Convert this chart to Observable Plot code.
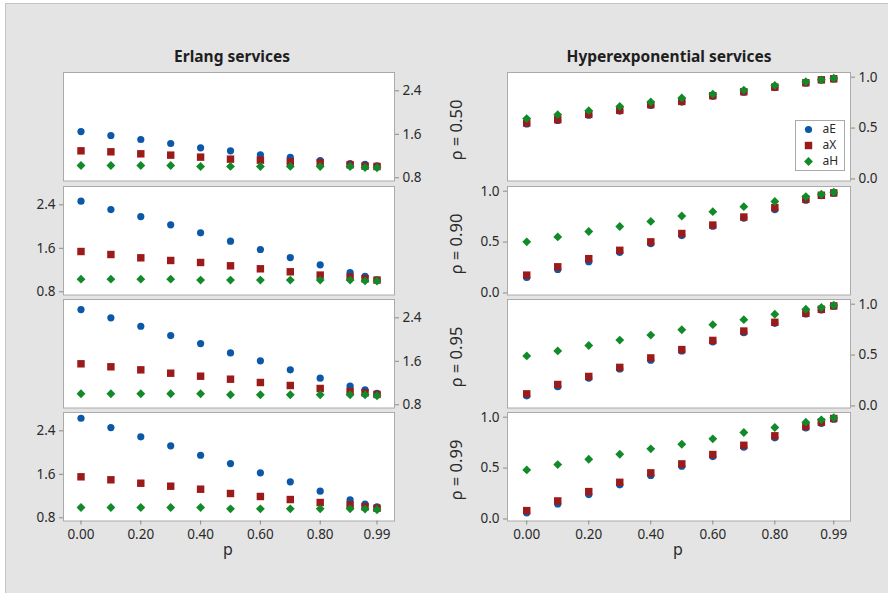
<!DOCTYPE html>
<html><head><meta charset="utf-8">
<script src="https://cdn.jsdelivr.net/npm/d3@7"></script>
<script src="https://cdn.jsdelivr.net/npm/@observablehq/plot@0.6"></script>
<style>
body{margin:0;background:#fff;}
#wrap{position:relative;width:888px;height:593px;overflow:hidden;font-family:"Noto Sans",sans-serif;}
#bg{position:absolute;left:5px;top:3px;width:900px;height:600px;background:#e4e4e4;border:1px solid #c4c4c4;}
.title{position:absolute;font-weight:bold;font-size:15.5px;color:#1e1e1e;transform:translateX(-50%);white-space:nowrap;}
.rho{position:absolute;font-size:16.5px;color:#2a2a2a;transform:translate(-50%,-50%) rotate(-90deg);white-space:nowrap;}
.xlab{position:absolute;font-size:16px;color:#2a2a2a;transform:translate(-50%,-50%);}
svg{overflow:visible;}
</style></head>
<body><div id="wrap"><div id="bg"></div></div>
<script>
// ---------- data ----------
const pValues = [0, 0.1, 0.2, 0.3, 0.4, 0.5, 0.6, 0.7, 0.8, 0.9, 0.95, 0.99];
const xTicks = [0, 0.2, 0.4, 0.6, 0.8, 0.99];
const rhoLabels = ["0.50", "0.90", "0.95", "0.99"];
const seriesNames = ["aE", "aX", "aH"];
const serviceTitles = ["Erlang services", "Hyperexponential services"];
const erlangTicks = [0.8, 1.6, 2.4];
const hyperTicks = [0, 0.5, 1.0];

// Erlang services
const erlangAE_050 = [1.651,1.578,1.504,1.431,1.352,1.296,1.223,1.174,1.118,1.063,1.045,1.02];
const erlangAX_050 = [1.296,1.278,1.241,1.217,1.18,1.143,1.125,1.094,1.076,1.039,1.015,1.008];
const erlangAH_050 = [1.027,1.027,1.027,1.027,1.008,1.01,1.008,1.01,1.008,1.008,0.99,0.985];

const erlangAE_090 = [2.467,2.313,2.184,2.032,1.885,1.732,1.578,1.43,1.296,1.155,1.082,1.02];
const erlangAX_090 = [1.541,1.486,1.425,1.376,1.339,1.278,1.223,1.168,1.107,1.07,1.039,1.015];
const erlangAH_090 = [1.033,1.033,1.033,1.033,1.015,1.015,1.015,1.015,1.015,1.015,1.0,0.998];

const erlangAE_095 = [2.552,2.4,2.245,2.074,1.927,1.755,1.608,1.443,1.289,1.142,1.076,1.01];
const erlangAX_095 = [1.554,1.499,1.443,1.381,1.326,1.271,1.21,1.155,1.1,1.044,1.02,0.99];
const erlangAH_095 = [1.002,1.002,1.002,1.002,1.002,0.984,0.984,0.984,0.984,0.984,0.984,0.967];

const erlangAE_099 = [2.631,2.46,2.289,2.124,1.951,1.798,1.627,1.462,1.289,1.131,1.05,1.0];
const erlangAX_099 = [1.554,1.499,1.436,1.381,1.326,1.247,1.192,1.136,1.081,1.039,1.002,0.976];
const erlangAH_099 = [0.989,0.989,0.989,0.989,0.989,0.965,0.965,0.965,0.965,0.965,0.96,0.947];

// Hyperexponential services
const hyperAE_050 = [0.54,0.575,0.627,0.667,0.722,0.755,0.812,0.852,0.898,0.942,0.972,0.983];
const hyperAX_050 = [0.55,0.583,0.635,0.674,0.73,0.762,0.818,0.857,0.902,0.945,0.974,0.984];
const hyperAH_050 = [0.593,0.632,0.671,0.713,0.756,0.795,0.834,0.873,0.919,0.955,0.974,0.99];

const hyperAE_090 = [0.152,0.231,0.307,0.399,0.485,0.564,0.656,0.736,0.819,0.911,0.955,0.98];
const hyperAX_090 = [0.175,0.257,0.337,0.419,0.502,0.584,0.667,0.746,0.838,0.921,0.96,0.983];
const hyperAH_090 = [0.502,0.551,0.604,0.653,0.703,0.756,0.799,0.848,0.898,0.947,0.97,0.99];

const hyperAE_095 = [0.1,0.19,0.274,0.363,0.449,0.541,0.63,0.72,0.812,0.904,0.944,0.98];
const hyperAX_095 = [0.119,0.211,0.29,0.379,0.472,0.554,0.644,0.736,0.822,0.911,0.95,0.983];
const hyperAH_095 = [0.492,0.541,0.594,0.647,0.696,0.749,0.799,0.848,0.901,0.95,0.967,0.99];

const hyperAE_099 = [0.06,0.148,0.24,0.335,0.427,0.518,0.613,0.705,0.797,0.895,0.94,0.98];
const hyperAX_099 = [0.082,0.177,0.269,0.36,0.453,0.541,0.633,0.724,0.817,0.908,0.951,0.987];
const hyperAH_099 = [0.482,0.534,0.587,0.636,0.689,0.734,0.787,0.849,0.899,0.951,0.974,0.994];

// ---------- styling ----------
const seriesColors = ["#0b57a8", "#9b1b1b", "#118a2a"];
const seriesSymbols = ["circle", "square", "diamond2"];
const seriesRadius = [3.6, 4.2, 4.0];

const columns = [
  {rows: [[erlangAE_050, erlangAX_050, erlangAH_050],
          [erlangAE_090, erlangAX_090, erlangAH_090],
          [erlangAE_095, erlangAX_095, erlangAH_095],
          [erlangAE_099, erlangAX_099, erlangAH_099]],
   left: 62.5, w: 331, xDomain: [-0.0585, 1.0485], yDomain: [0.741, 2.737], yTicks: erlangTicks,
   titleX: 232, labX: 228},
  {rows: [[hyperAE_050, hyperAX_050, hyperAH_050],
          [hyperAE_090, hyperAX_090, hyperAH_090],
          [hyperAE_095, hyperAX_095, hyperAH_095],
          [hyperAE_099, hyperAX_099, hyperAH_099]],
   left: 506.5, w: 343, xDomain: [-0.062, 1.044], yDomain: [-0.02, 1.046], yTicks: hyperTicks,
   titleX: 669, labX: 678}
];
const rowTops = [71.5, 185.5, 299, 412];
const rowH = 108.5;

const wrap = document.getElementById("wrap");
const fmt1 = d3.format(".1f"), fmt2 = d3.format(".2f");

columns.forEach((col, ci) => {
  const t = document.createElement("div");
  t.className = "title"; t.textContent = serviceTitles[ci];
  t.style.left = col.titleX + "px"; t.style.top = "45px";
  wrap.appendChild(t);

  col.rows.forEach((arrs, ri) => {
    const bottom = ri === 3;
    const mL = 44, mR = 44, mT = 2, mB = bottom ? 30 : 2;
    const anchor = ri % 2 === 0 ? "right" : "left";
    const marks = [Plot.frame({fill: "white", stroke: "#aaaaaa"})];
    seriesNames.forEach((s, si) => {
      const data = pValues.map((p, i) => ({p, v: arrs[si][i], s}));
      marks.push(Plot.dot(data, {x: "p", y: "v", symbol: () => seriesSymbols[si], fill: seriesColors[si], r: seriesRadius[si], stroke: "none"}));
    });
    marks.push(Plot.axisY(col.yTicks, {anchor, tickSize: 4, tickPadding: 4, tickFormat: fmt1, label: null, stroke: "#8a8a8a", fill: "#2a2a2a", fontSize: 13.5}));
    if (bottom) marks.push(Plot.axisX(xTicks, {anchor: "bottom", tickSize: 4, tickPadding: 4, tickFormat: fmt2, label: null, stroke: "#8a8a8a", fill: "#2a2a2a", fontSize: 13.5}));
    const chart = Plot.plot({
      width: col.w + mL + mR, height: rowH + mT + mB,
      marginLeft: mL, marginRight: mR, marginTop: mT, marginBottom: mB,
      x: {domain: col.xDomain, axis: null},
      y: {domain: col.yDomain, axis: null},
      symbol: {type: "identity"},
      style: {background: "transparent", fontFamily: "Noto Sans", fontSize: "13.5px", color: "#2a2a2a", overflow: "visible"},
      marks
    });
    chart.style.position = "absolute";
    chart.style.left = (col.left - mL) + "px";
    chart.style.top = (rowTops[ri] - mT) + "px";
    wrap.appendChild(chart);

    if (ci === 0) {
      const r = document.createElement("div");
      r.className = "rho"; r.textContent = "ρ = " + rhoLabels[ri];
      r.style.left = "455px"; r.style.top = (rowTops[ri] + rowH / 2 + 4) + "px";
      wrap.appendChild(r);
    }
  });
  const xl = document.createElement("div");
  xl.className = "xlab"; xl.textContent = "p";
  xl.style.left = col.labX + "px"; xl.style.top = "549px";
  wrap.appendChild(xl);
});

// legend
const legend = Plot.plot({
  width: 49, height: 56, marginTop: 4, marginBottom: 2, marginLeft: 0, marginRight: 0,
  x: {axis: null, domain: [0, 1]},
  y: {type: "point", domain: seriesNames, padding: 0.5, axis: null},
  symbol: {type: "identity"},
  style: {background: "white", fontFamily: "Noto Sans", fontSize: "12px", color: "#2a2a2a"},
  marks: [
    Plot.frame({stroke: "#aaaaaa"}),
    ...seriesNames.map((s, si) => Plot.dot([s], {y: d => d, frameAnchor: "left", dx: 13, symbol: () => seriesSymbols[si], fill: seriesColors[si], r: seriesRadius[si]})),
    Plot.text(seriesNames, {y: d => d, text: d => d, frameAnchor: "left", dx: 27, textAnchor: "start", fill: "#2a2a2a", fontSize: 12, lineHeight: 1})
  ]
});
legend.style.position = "absolute";
legend.style.left = "795px"; legend.style.top = "116px";
wrap.appendChild(legend);
</script>
</body></html>
